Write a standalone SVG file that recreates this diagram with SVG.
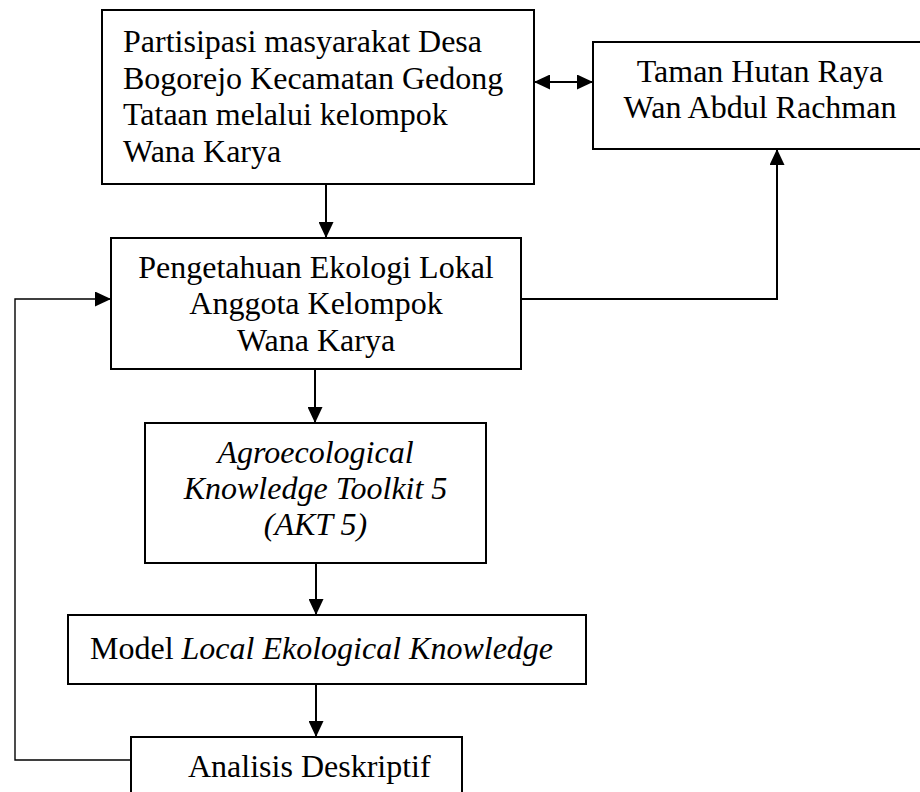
<svg xmlns="http://www.w3.org/2000/svg" width="920" height="792" viewBox="0 0 920 792">
<style>
.box{fill:#fff;stroke:#000;stroke-width:2}
.t{font-family:"Liberation Serif","Times New Roman",serif;font-size:32px;fill:#000}
.c{text-anchor:middle}
.i{font-style:italic}
.ln{fill:none;stroke:#000;stroke-width:2}
.thin{stroke-width:1.4}
</style>
<defs>
<marker id="ah" markerUnits="userSpaceOnUse" markerWidth="17" markerHeight="15" refX="16" refY="7.5" orient="auto-start-reverse" viewBox="0 0 17 15">
<path d="M0,0 L16,7.5 L0,15 Z" fill="#000"/>
</marker>
</defs>
<rect width="920" height="792" fill="#fff"/>
<g id="connectors">
<line class="ln" x1="326" y1="184" x2="326" y2="238" marker-end="url(#ah)"/>
<line class="ln" x1="534" y1="82" x2="593" y2="82" marker-start="url(#ah)" marker-end="url(#ah)"/>
<polyline class="ln" points="521,299 777,299 777,149" marker-end="url(#ah)"/>
<line class="ln" x1="315" y1="369" x2="315" y2="423" marker-end="url(#ah)"/>
<line class="ln" x1="316" y1="563" x2="316" y2="615" marker-end="url(#ah)"/>
<line class="ln" x1="316" y1="684" x2="316" y2="737" marker-end="url(#ah)"/>
<polyline class="ln thin" points="131,760 15,760 15,299 111,299" marker-end="url(#ah)"/>
</g>
<g id="partisipasi">
<rect class="box" x="102" y="10" width="432" height="174"/>
<text class="t" x="123" y="52">Partisipasi masyarakat Desa</text>
<text class="t" x="123" y="88.5">Bogorejo Kecamatan Gedong</text>
<text class="t" x="123" y="125">Tataan melalui kelompok</text>
<text class="t" x="123" y="161.5">Wana Karya</text>
</g>
<g id="tahura">
<rect class="box" x="593" y="42" width="335" height="107"/>
<text class="t c" x="760" y="82">Taman Hutan Raya</text>
<text class="t c" x="760" y="118">Wan Abdul Rachman</text>
</g>
<g id="pengetahuan">
<rect class="box" x="111" y="238" width="410" height="131"/>
<text class="t c" x="316" y="278">Pengetahuan Ekologi Lokal</text>
<text class="t c" x="316" y="314">Anggota Kelompok</text>
<text class="t c" x="316" y="351">Wana Karya</text>
</g>
<g id="akt">
<rect class="box" x="145" y="423" width="341" height="140"/>
<text class="t c i" x="315.5" y="463">Agroecological</text>
<text class="t c i" x="315.5" y="499">Knowledge Toolkit 5</text>
<text class="t c i" x="315.5" y="535">(AKT 5)</text>
</g>
<g id="model">
<rect class="box" x="68" y="615" width="518" height="69"/>
<text class="t" x="90" y="659">Model <tspan class="i">Local Ekological Knowledge</tspan></text>
</g>
<g id="analisis">
<rect class="box" x="131" y="737" width="331" height="70"/>
<text class="t" x="188" y="777">Analisis Deskriptif</text>
</g>
</svg>
